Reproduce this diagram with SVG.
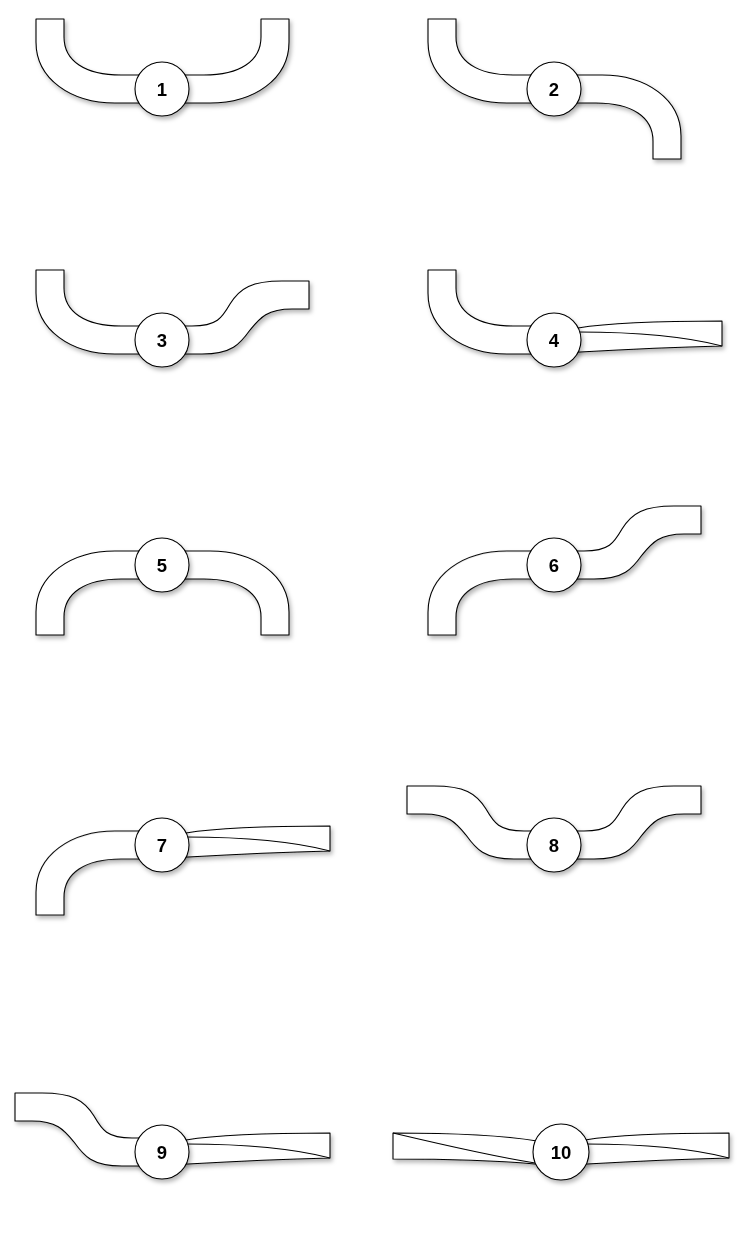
<svg xmlns="http://www.w3.org/2000/svg" width="744" height="1236" viewBox="0 0 744 1236">
<defs>
<filter id="sh" x="-10%" y="-10%" width="130%" height="140%">
<feDropShadow dx="2" dy="3" stdDeviation="2" flood-color="#000" flood-opacity="0.28"/>
</filter>
<path id="bend" d="M0,-14 L48,-14 C92,-14 127,10 127,47 L127,70 L99,70 L99,52 C99,28 78,14 42,14 L0,14 Z"/>
<path id="scurve" d="M0,-14 L30,-14 C55,-14 60,-22 68,-36 C78,-52 90,-59 120,-59 L147,-59 L147,-31 L130,-31 C105,-31 98,-22 88,-10 C78,4 70,14 40,14 L0,14 Z"/>
<g id="ribbon">
<path d="M0,-12 L24,-12 C60,-18 120,-19 168,-19 L168,6 C130,7 80,9 26,12 L0,12 Z"/>
<path class="ln" d="M24,-8 C80,-8 130,-4 168,6"/>
</g>
<g id="ribbonL">
<path d="M0,-11 L-24,-11 C-60,-17 -120,-19 -168,-19 L-168,7 C-120,7 -60,9 -26,12 L0,12 Z"/>
<path class="ln" d="M-168,-19 C-130,-10 -70,4 -26,11"/>
</g>
</defs>
<style>
.c path, .c use { fill: #fff; stroke: #000; stroke-width: 1.1; stroke-linejoin: round; }
.c .ln { fill: none; }
.n circle { fill: #fff; stroke: #000; stroke-width: 1.1; filter: url(#sh); }
.n text { font-family: "Liberation Sans", Arial, Helvetica, sans-serif; font-size: 18.5px; font-weight: bold; fill: #000; text-anchor: middle; }
</style>
<rect width="744" height="1236" fill="#fff"/>
<g id="connectors" class="c" filter="url(#sh)">
  <use href="#bend" transform="translate(163,89) rotate(180)"/>
  <use href="#bend" transform="translate(162,89) scale(1,-1)"/>
  <use href="#bend" transform="translate(555,89) rotate(180)"/>
  <use href="#bend" transform="translate(554,89)"/>
  <use href="#bend" transform="translate(163,340) rotate(180)"/>
  <use href="#scurve" transform="translate(162,340)"/>
  <use href="#bend" transform="translate(555,340) rotate(180)"/>
  <use href="#ribbon" transform="translate(554,340)"/>
  <use href="#bend" transform="translate(163,565) scale(-1,1)"/>
  <use href="#bend" transform="translate(162,565)"/>
  <use href="#bend" transform="translate(555,565) scale(-1,1)"/>
  <use href="#scurve" transform="translate(554,565)"/>
  <use href="#bend" transform="translate(163,845) scale(-1,1)"/>
  <use href="#ribbon" transform="translate(162,845)"/>
  <use href="#scurve" transform="translate(554,845) scale(-1,1)"/>
  <use href="#scurve" transform="translate(554,845)"/>
  <use href="#scurve" transform="translate(162,1152) scale(-1,1)"/>
  <use href="#ribbon" transform="translate(162,1152)"/>
  <use href="#ribbonL" transform="translate(561,1152)"/>
  <use href="#ribbon" transform="translate(561,1152)"/>
</g>
<g id="node1" class="n"><circle cx="162" cy="89" r="27"/><text x="162" y="95.5">1</text></g>
<g id="node2" class="n"><circle cx="554" cy="89" r="27"/><text x="554" y="95.5">2</text></g>
<g id="node3" class="n"><circle cx="162" cy="340" r="27"/><text x="162" y="346.5">3</text></g>
<g id="node4" class="n"><circle cx="554" cy="340" r="27"/><text x="554" y="346.5">4</text></g>
<g id="node5" class="n"><circle cx="162" cy="565" r="27"/><text x="162" y="571.5">5</text></g>
<g id="node6" class="n"><circle cx="554" cy="565" r="27"/><text x="554" y="571.5">6</text></g>
<g id="node7" class="n"><circle cx="162" cy="845" r="27"/><text x="162" y="851.5">7</text></g>
<g id="node8" class="n"><circle cx="554" cy="845" r="27"/><text x="554" y="851.5">8</text></g>
<g id="node9" class="n"><circle cx="162" cy="1152" r="27"/><text x="162" y="1158.5">9</text></g>
<g id="node10" class="n"><circle cx="561" cy="1152" r="28"/><text x="561" y="1158.5">10</text></g>
</svg>
